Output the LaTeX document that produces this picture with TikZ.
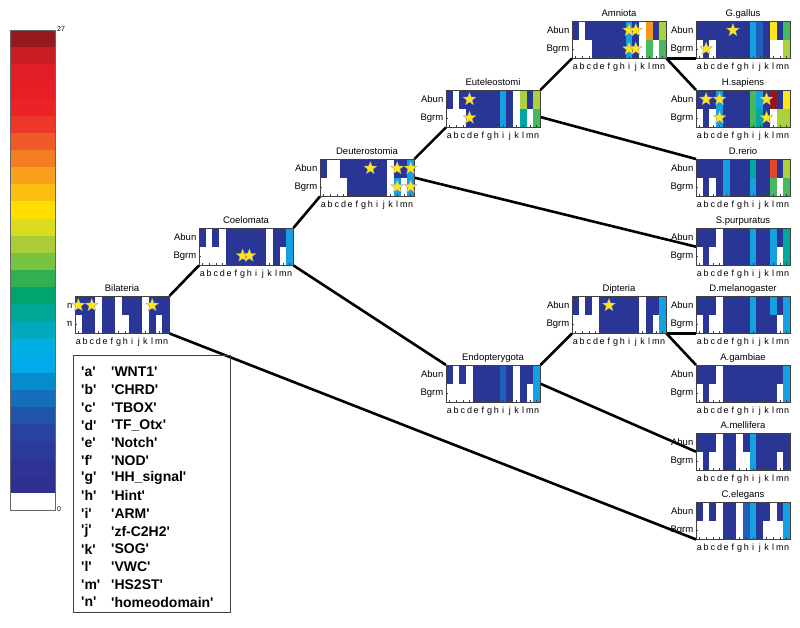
\documentclass[tikz,border=0pt]{standalone}
\usepackage{fontspec}
\setmainfont{Liberation Sans}[Ligatures=TeXOff]
\usetikzlibrary{shapes.geometric}
\pgfdeclarelayer{bg}
\pgfsetlayers{bg,main}

% cell colours (dark blue ... dark red)
\definecolor{hmW}{RGB}{255,255,255}
\definecolor{hmN}{RGB}{42,54,150}
\definecolor{hmM}{RGB}{32,96,188}
\definecolor{hmC}{RGB}{22,160,225}
\definecolor{hmT}{RGB}{0,168,160}
\definecolor{hmG}{RGB}{70,185,95}
\definecolor{hmL}{RGB}{170,210,60}
\definecolor{hmY}{RGB}{255,230,20}
\definecolor{hmO}{RGB}{245,150,30}
\definecolor{hmR}{RGB}{230,70,40}
\definecolor{hmK}{RGB}{150,20,30}

\tikzset{
  panel/.style={minimum width=94pt, minimum height=37pt, inner sep=0pt, anchor=north west},
  axisbox/.style={draw=black!75, line width=0.5pt},
  tick/.style={draw=black!75, line width=0.4pt},
  hstar/.style={star, star points=5, star point ratio=2.4, fill=hmY, draw=black!35, line width=0.3pt, minimum size=13.5pt, inner sep=0pt},
  link/.style={line width=2.6pt, black},
  title/.style={font=\fontsize{9.5}{10}\selectfont, anchor=base, inner sep=0pt},
  rowlab/.style={font=\fontsize{9.5}{10}\selectfont, anchor=east, inner sep=0pt},
  collab/.style={font=\fontsize{9}{10}\selectfont, anchor=base, inner sep=0pt},
  keytxt/.style={font=\fontsize{14}{15}\selectfont\bfseries, anchor=west, inner sep=0pt},
  cblab/.style={font=\fontsize{7}{8}\selectfont, anchor=west, inner sep=0pt},
}

\newcommand{\cw}{6.714}
\newcommand{\pname}{}
\newcommand{\hst}[2]{\node[hstar] (\pname-s#1#2) at (#1*\cw+0.5*\cw,#2*18.5+9.25) {};}
% #1 name, #2/#3 top-left, #4 title, #5 Abun row, #6 Bgrm row, #7 stars
\newcommand{\hmap}[7]{%
  \node[panel] (#1) at (#2,#3) {};
  \begin{scope}[shift={(#2,#3)}]
    \renewcommand{\pname}{#1}
    \foreach \cc [count=\i from 0] in {#5}
      \fill[hm\cc] (\i*\cw,0) rectangle ++(\cw,18.5);
    \foreach \cc [count=\i from 0] in {#6}
      \fill[hm\cc] (\i*\cw,18.5) rectangle ++(\cw,18.5);
    \foreach \i in {0,...,13}
      \draw[tick] (\i*\cw+0.5*\cw,37) -- ++(0,-1.8);
    \draw[tick] (0,9.25) -- ++(1.8,0) (0,27.75) -- ++(1.8,0);
    \draw[axisbox] (0,0) rectangle (94,37);
    #7
    \foreach \lt [count=\i from 0] in {a,...,n}
      \node[collab] (#1-\lt) at (\i*\cw+0.5*\cw,48) {\lt};
    \node[rowlab] (#1-ab) at (-2.5,9.25) {Abun};
    \node[rowlab] (#1-bg) at (-2.5,27.75) {Bgrm};
    \node[title] (#1-t) at (47,-4.5) {#4};
  \end{scope}
}

\begin{document}
\begin{tikzpicture}[x=1pt,y=-1pt]
\useasboundingbox (0,0) rectangle (800,627);

\hmap{bil}{75}{296}{Bilateria}{N,N,N,W,N,N,W,N,N,N,W,N,N,N}{W,N,N,W,N,N,W,W,N,N,W,N,W,N}{\hst{0}{0}\hst{2}{0}\hst{11}{0}}
\hmap{coe}{199}{228}{Coelomata}{N,W,N,W,N,N,N,N,N,N,W,N,N,C}{W,W,W,W,N,N,N,N,N,N,W,N,W,C}{\hst{6}{1}\hst{7}{1}}
\hmap{deu}{320}{159}{Deuterostomia}{N,W,W,N,N,N,N,N,N,N,W,N,N,C}{W,W,W,W,N,N,N,N,N,N,W,C,W,C}{\hst{7}{0}\hst{11}{0}\hst{13}{0}\hst{11}{1}\hst{13}{1}}
\hmap{eut}{446}{90}{Euteleostomi}{N,W,N,N,N,N,N,N,C,N,W,L,N,L}{W,W,W,N,N,N,N,N,C,N,W,T,W,G}{\hst{3}{0}\hst{3}{1}}
\hmap{amn}{572}{21}{Amniota}{N,W,N,N,N,N,N,N,C,N,W,O,N,L}{W,W,W,N,N,N,N,N,C,N,W,G,W,G}{\hst{8}{0}\hst{9}{0}\hst{8}{1}\hst{9}{1}}
\hmap{gga}{696}{21}{G.gallus}{N,N,N,N,N,N,N,N,C,M,N,Y,N,G}{W,N,W,N,N,N,N,N,C,M,N,W,W,L}{\hst{5}{0}\hst{1}{1}}
\hmap{hsa}{696}{90}{H.sapiens}{N,N,N,C,N,N,N,N,G,C,N,K,N,Y}{W,N,W,C,N,N,N,N,G,T,N,W,L,L}{\hst{1}{0}\hst{3}{0}\hst{10}{0}\hst{3}{1}\hst{10}{1}}
\hmap{dre}{696}{159}{D.rerio}{N,N,N,N,C,N,N,N,T,N,N,R,N,L}{W,N,W,N,C,N,N,N,C,N,N,G,W,G}{}
\hmap{spu}{696}{228}{S.purpuratus}{N,N,N,W,N,N,N,N,C,N,N,C,N,T}{W,N,W,W,N,N,N,N,C,N,N,C,W,T}{}
\hmap{dip}{572}{296}{Dipteria}{N,W,N,W,N,N,N,N,N,N,W,N,N,C}{W,W,W,W,N,N,N,N,N,N,W,N,W,C}{\hst{5}{0}}
\hmap{dme}{696}{296}{D.melanogaster}{N,N,N,W,N,N,N,N,C,N,N,C,N,C}{W,N,W,W,N,N,N,N,C,N,N,N,W,C}{}
\hmap{end}{446}{365}{Endopterygota}{N,W,N,W,N,N,N,N,M,N,W,N,N,C}{W,W,W,W,N,N,N,N,M,N,W,N,W,C}{}
\hmap{aga}{696}{365}{A.gambiae}{N,N,N,W,N,N,N,N,N,N,N,N,N,C}{W,N,W,W,N,N,N,N,N,N,N,N,W,C}{}
\hmap{ame}{696}{433}{A.mellifera}{N,N,N,W,N,N,W,N,C,N,N,N,N,N}{W,N,W,W,N,N,W,W,C,N,N,N,W,N}{}
\hmap{cel}{696}{502}{C.elegans}{N,W,N,W,N,N,W,M,C,N,N,W,N,C}{W,W,W,W,N,N,W,M,C,N,W,W,W,C}{}

% tree
\begin{pgfonlayer}{bg}
\draw[link] (bil.north east) -- (coe.south west);
\draw[link] (coe.north east) -- (deu.south west);
\draw[link] (deu.north east) -- (eut.south west);
\draw[link] (eut.north east) -- (amn.south west);
\draw[link] (amn.south east) -- (gga.south west);
\draw[link] (amn.south east) -- (hsa.north west);
\draw[link] (eut.-10) -- (dre.north west);
\draw[link] (deu.east) -- (spu.west);
\draw[link] (coe.south east) -- (end.north west);
\draw[link] (end.north east) -- (dip.south west);
\draw[link] (dip.south east) -- (dme.south west);
\draw[link] (dip.south east) -- (aga.north west);
\draw[link] (end.east) -- (ame.west);
\draw[link] (bil.south east) -- (cel.south west);
\end{pgfonlayer}

% colour bar, 27 levels from the bottom up
\fill[white] (0,0) rectangle (67,627);
\foreach \r/\g/\b [count=\i from 0] in {46/49/146,46/52/150,44/58/155,40/66/160,33/85/170,20/110/185,5/140/205,0/170/235,0/175/225,0/170/190,0/166/150,0/165/110,50/175/80,120/195/65,170/205/55,220/220/30,255/222/0,252/190/15,248/160/28,243/125/35,240/90/40,237/55/40,236/35/38,232/30/38,225/30/38,200/30/35,150/25/30}{
  \definecolor{cblev}{RGB}{\r,\g,\b}
  \fill[cblev] (10,493-17.148*\i) rectangle (55,493-17.148*\i-17.4);
}
\draw[black!60, line width=0.5pt] (10,30) rectangle (55,510);
\node[cblab] (cbmax) at (57,29) {27};
\node[cblab] (cbmin) at (57,509) {0};

% key
\draw[black!75, line width=0.7pt] (73,355) rectangle (230,612);
\foreach \k/\v [count=\i from 0] in {a/WNT1,b/CHRD,c/TBOX,d/TF\_Otx,e/Notch,f/NOD,g/HH\_signal,h/Hint,i/ARM,j/zf-C2H2,k/SOG,l/VWC,m/HS2ST,n/homeodomain}{
  \node[keytxt] (key-\k) at (81,372+17.7*\i) {'\k'};
  \node[keytxt] (val-\k) at (111,372+17.7*\i) {'\v'};
}
\end{tikzpicture}
\end{document}
